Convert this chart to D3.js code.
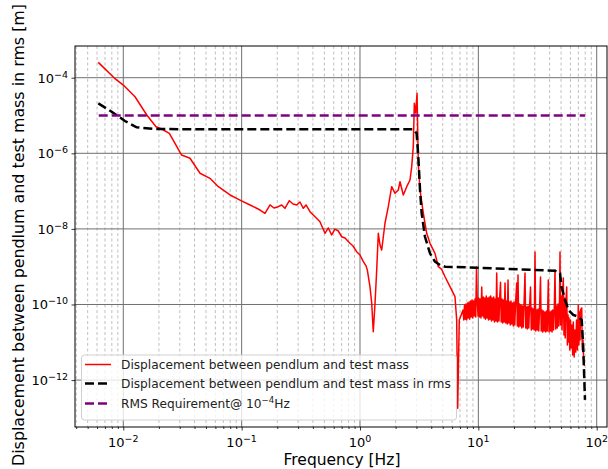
<!DOCTYPE html>
<html>
<head>
<meta charset="utf-8">
<script src="https://cdn.jsdelivr.net/npm/d3@7"></script>
<style>
  html, body { margin: 0; padding: 0; background: #fff; }
  svg { display: block; font-family: "DejaVu Sans", sans-serif; }
</style>
</head>
<body>
<svg id="chart" width="608" height="469"></svg>
<script>
// ---------- DATA ----------
const redFreq = [
  0.00615, 0.0084, 0.0100, 0.01256, 0.0158, 0.0189, 0.0211, 0.0245, 0.0311, 0.0366,
  0.0445, 0.054, 0.0636, 0.0798, 0.0969, 0.1178, 0.143, 0.1575, 0.1737, 0.1876,
  0.204, 0.218, 0.232, 0.253, 0.272, 0.292, 0.311, 0.332, 0.35, 0.378,
  0.417, 0.459, 0.506, 0.54, 0.576, 0.615, 0.656, 0.70, 0.747, 0.823,
  0.873, 0.937, 1.0, 1.067, 1.125, 1.153, 1.214, 1.256, 1.295, 1.34,
  1.384, 1.428, 1.476, 1.525, 1.626, 1.734, 1.853, 1.976, 2.107, 2.178,
  2.323, 2.483, 2.646, 2.735, 2.82, 2.877, 2.956, 3.034, 3.11, 3.215,
  3.43, 3.66, 3.905, 4.3, 4.59, 4.9, 5.23, 5.76, 6.35, 6.56,
  6.69, 6.9, 7.42,
  7.53, 7.64, 7.75, 7.87, 7.98, 8.10, 8.22, 8.34, 8.46, 8.59,
  8.71, 8.84, 8.97, 9.10, 9.24, 9.37, 9.51, 9.65, 9.79, 9.94,
  10.08, 10.23, 10.38, 10.53, 10.68, 10.84, 11.00, 11.16, 11.33, 11.49,
  11.66, 11.83, 12.01, 12.18, 12.36, 12.54, 12.73, 12.91, 13.10, 13.30,
  13.49, 13.69, 13.89, 14.10, 14.29, 14.51, 14.73, 14.94, 15.16, 15.39,
  15.61, 15.84, 16.08, 16.31, 16.55, 16.80, 17.05, 17.30, 17.55, 17.81,
  18.07, 18.34, 18.61, 18.88, 19.16, 19.44, 19.73, 20.02, 20.31, 20.61,
  21.09, 21.34, 21.63, 21.95, 22.27, 22.60, 22.93, 23.27, 23.61, 23.96,
  24.31, 24.79, 25.15, 25.52, 25.90, 26.28, 26.66, 27.05, 27.59, 28.00,
  28.40, 28.82, 29.24, 29.67, 30.11, 30.55, 31.00, 31.45, 31.92, 32.38,
  32.86, 33.51, 34.00, 34.50, 35.01, 35.52, 36.04, 36.58, 37.12, 37.66,
  38.21, 39.00, 39.57, 40.15, 40.74, 41.34, 41.95, 42.56, 43.19, 43.82,
  44.44, 45.09, 45.76, 46.43, 47.11, 47.80, 48.50, 48.98, 49.50, 50.20,
  50.93, 51.60, 52.23, 52.90, 53.46, 54.20, 55.05, 55.80, 56.50, 57.23,
  57.80, 58.35, 59.20, 60.08, 60.95, 61.86, 62.65, 63.45, 64.50, 65.58,
  66.50, 67.52, 68.70, 69.93, 70.70, 71.58, 72.30, 73.00, 74.72, 75.60,
  76.63, 77.60, 78.6
];
const redValue = [
  2.55e-4, 9.8e-5, 6.4e-5, 3.14e-5, 1.03e-5, 5.06e-6, 4.4e-6, 3.38e-6, 9.0e-7, 7.4e-7,
  2.96e-7, 2.18e-7, 1.31e-7, 7.9e-8, 5.8e-8, 4.3e-8, 3.16e-8, 2.59e-8, 4.3e-8, 3.57e-8,
  3.87e-8, 4.3e-8, 3.5e-8, 5.57e-8, 4.56e-8, 4.3e-8, 5.15e-8, 3.5e-8, 4.3e-8, 2.85e-8,
  2.1e-8, 1.55e-8, 7.66e-9, 1.06e-8, 6.9e-9, 9.9e-9, 8.8e-9, 6.2e-9, 5.74e-9, 4.16e-9,
  3.53e-9, 2.5e-9, 2.04e-9, 1.36e-9, 1.05e-9, 8.2e-10, 2.96e-10, 1.08e-10, 1.9e-11, 1.08e-10,
  8.2e-10, 7.66e-9, 3.75e-9, 2.77e-9, 1.41e-8, 3.87e-8, 1.31e-7, 8.75e-8, 1.07e-7, 1.77e-7,
  7.9e-8, 1.31e-7, 1.97e-7, 4.43e-7, 1.5e-6, 2.1e-5, 1.16e-5, 3.86e-5, 5.4e-7, 1.07e-7,
  2.59e-8, 7.66e-9, 4.16e-9, 2.26e-9, 1.0e-9, 8.5e-10, 5.43e-10, 2.96e-10, 1.61e-10, 3.9e-11,
  1.8e-13, 3.9e-11, 7.1e-11,
  3.9e-11, 9.7e-11, 4.1e-11, 1.03e-10, 3.9e-11, 1.10e-10, 4.4e-11, 1.16e-10, 4.1e-11, 1.24e-10,
  4.7e-11, 1.32e-10, 4.4e-11, 1.24e-10, 5.0e-11, 1.40e-10, 4.7e-11, 9.8e-10, 1.32e-10, 5.0e-11,
  1.49e-10, 4.7e-11, 1.40e-10, 4.4e-11, 2.9e-10, 5.0e-11, 1.58e-10, 4.4e-11, 1.49e-10, 4.1e-11,
  1.68e-10, 4.4e-11, 1.49e-10, 3.9e-11, 1.58e-10, 4.1e-11, 1.68e-10, 3.66e-11, 1.49e-10, 3.9e-11,
  1.58e-10, 3.44e-11, 1.40e-10, 3.66e-11, 6.8e-10, 3.44e-11, 1.49e-10, 3.66e-11, 1.58e-10, 3.9e-10,
  3.44e-11, 1.40e-10, 3.24e-11, 1.32e-10, 3.44e-11, 3.7e-10, 3.24e-11, 1.24e-10, 3.05e-11, 4.45e-10,
  3.24e-11, 1.16e-10, 2.87e-11, 1.24e-10, 3.05e-11, 1.10e-10, 2.70e-11, 1.16e-10, 2.87e-11, 1.03e-10,
  3.7e-10, 2.70e-11, 6.0e-10, 2.54e-11, 1.03e-10, 2.70e-11, 9.7e-11, 2.39e-11, 9.1e-11, 2.54e-11,
  9.7e-11, 6.8e-10, 2.39e-11, 8.6e-11, 2.25e-11, 9.1e-11, 2.39e-11, 8.1e-11, 2.9e-10, 2.12e-11,
  8.1e-11, 2.25e-11, 7.6e-11, 2.12e-11, 2.45e-9, 1.99e-11, 7.1e-11, 2.12e-11, 7.6e-11, 1.99e-11,
  6.7e-11, 5.3e-10, 1.99e-11, 7.1e-11, 1.87e-11, 6.7e-11, 1.99e-11, 6.3e-11, 1.87e-11, 6.7e-11,
  1.99e-11, 4.45e-10, 1.87e-11, 6.3e-11, 1.99e-11, 6.7e-11, 1.87e-11, 7.1e-11, 2.12e-11, 8.1e-11,
  8.2e-10, 2.25e-11, 9.1e-11, 2.39e-11, 1.03e-10, 2.70e-11, 1.32e-10, 2.45e-9, 2.87e-11, 1.68e-10,
  2.12e-11, 2.14e-10, 5.0e-10, 1.56e-11, 1.49e-10, 1.3e-11, 1.32e-10, 2.9e-10, 8.5e-12, 5.3e-11,
  1.02e-11, 4.4e-11, 6.25e-12, 3.9e-11, 7.1e-12, 2.87e-11, 4.6e-12, 3.44e-11, 4.1e-12, 2.12e-11,
  5.5e-12, 3.9e-11, 6.25e-12, 9.7e-11, 8.5e-12, 6.3e-11, 1.15e-11, 7.1e-11, 8.1e-11, 6.25e-12,
  1.15e-11, 3.4e-12, 2.36e-12
];

const rmsFreq = [
  0.00615, 0.00798, 0.01033, 0.01296, 0.01852, 0.0445, 0.311, 2.82, 3.01, 3.11,
  3.215, 3.32, 3.54, 3.905, 4.3, 4.75, 5.23, 9.68, 29.3, 44.4,
  49.0, 50.4, 54.0, 57.8, 63.4, 69.9, 74.7, 76.9, 79.6
];
const rmsValue = [
  2.1e-5, 1.26e-5, 7.15e-6, 4.88e-6, 4.4e-6, 4.3e-6, 4.3e-6, 4.3e-6, 3.38e-6, 8.1e-7,
  1.07e-7, 2.59e-8, 6.2e-9, 2.26e-9, 1.36e-9, 1.11e-9, 1.0e-9, 9.4e-10, 8.2e-10, 7.8e-10,
  6.7e-10, 2.96e-10, 1.32e-10, 7.1e-11, 5.3e-11, 4.75e-11, 3.9e-11, 7.65e-12, 3.0e-13
];

const reqFreq = [0.0062, 80];
const reqValue = [1e-5, 1e-5];

const xMajorTicks = [1e-2, 1e-1, 1e0, 1e1, 1e2];
const xTickExponents = ["−2", "−1", "0", "1", "2"];
const yMajorTicks = [1e-4, 1e-6, 1e-8, 1e-10, 1e-12];
const yTickExponents = ["−4", "−6", "−8", "−10", "−12"];

const legendLabels = [
  "Displacement between pendlum and test mass",
  "Displacement between pendlum and test mass in rms",
  "RMS Requirement@ 10"
];

// ---------- LAYOUT ----------
const L = 75, R = 607, T = 46, B = 427;
const svg = d3.select("#chart");

const x = d3.scaleLog().domain([Math.pow(10, -2.408), Math.pow(10, 2.087)]).range([L, R]);
const y = d3.scaleLog().domain([Math.pow(10, -13.241), Math.pow(10, -3.161)]).range([B, T]);

// minor x ticks
const xMinor = [];
for (let e = -3; e <= 2; e++) {
  for (let m = 2; m <= 9; m++) {
    const v = m * Math.pow(10, e);
    if (v >= x.domain()[0] && v <= x.domain()[1]) xMinor.push(v);
  }
}

// grid
const grid = svg.append("g");
grid.selectAll(".minor").data(xMinor).enter().append("line")
  .attr("x1", d => x(d)).attr("x2", d => x(d))
  .attr("y1", T).attr("y2", B)
  .attr("stroke", "#b0b0b0").attr("stroke-width", 0.8)
  .attr("stroke-dasharray", "3,2.5");
grid.selectAll(".majx").data(xMajorTicks).enter().append("line")
  .attr("x1", d => x(d)).attr("x2", d => x(d))
  .attr("y1", T).attr("y2", B)
  .attr("stroke", "#707070").attr("stroke-width", 1);
grid.selectAll(".majy").data(yMajorTicks).enter().append("line")
  .attr("x1", L).attr("x2", R)
  .attr("y1", d => y(d)).attr("y2", d => y(d))
  .attr("stroke", "#707070").attr("stroke-width", 1);

// clip
svg.append("clipPath").attr("id", "clip").append("rect")
  .attr("x", L).attr("y", T).attr("width", R - L).attr("height", B - T);

const line = d3.line().x(d => x(d[0])).y(d => y(d[1]));
const plot = svg.append("g").attr("clip-path", "url(#clip)");

plot.append("path")
  .datum(redFreq.map((f, i) => [f, redValue[i]]))
  .attr("d", line).attr("fill", "none")
  .attr("stroke", "#ff0000").attr("stroke-width", 1.5)
  .attr("stroke-linejoin", "round");

plot.append("path")
  .datum(rmsFreq.map((f, i) => [f, rmsValue[i]]))
  .attr("d", line).attr("fill", "none")
  .attr("stroke", "#000").attr("stroke-width", 2.5)
  .attr("stroke-dasharray", "9,4");

plot.append("path")
  .datum(reqFreq.map((f, i) => [f, reqValue[i]]))
  .attr("d", line).attr("fill", "none")
  .attr("stroke", "#800080").attr("stroke-width", 2.5)
  .attr("stroke-dasharray", "9,4");

// axes
const xAxis = d3.axisBottom(x).tickValues(xMajorTicks).tickSize(3.5).tickFormat("");
const xAxisMinor = d3.axisBottom(x).tickValues(xMinor).tickSize(2).tickFormat("");
const yAxis = d3.axisLeft(y).tickValues(yMajorTicks).tickSize(3.5).tickFormat("");

const gx = svg.append("g").attr("transform", `translate(0,${B})`).call(xAxis);
const gxm = svg.append("g").attr("transform", `translate(0,${B})`).call(xAxisMinor);
const gy = svg.append("g").attr("transform", `translate(${L},0)`).call(yAxis);
[gx, gxm, gy].forEach(g => {
  g.select(".domain").remove();
  g.selectAll("line").attr("stroke", "#000").attr("stroke-width", 0.8);
});

// frame
svg.append("rect").attr("x", L).attr("y", T).attr("width", R - L).attr("height", B - T)
  .attr("fill", "none").attr("stroke", "#000").attr("stroke-width", 1);

// tick labels
const xl = svg.append("g").selectAll("text").data(xMajorTicks).enter().append("text")
  .attr("x", d => x(d)).attr("y", 447)
  .attr("text-anchor", "middle").attr("font-size", 13).attr("fill", "#000");
xl.append("tspan").text("10");
xl.append("tspan").attr("dy", -5).attr("font-size", 9.5).text((d, i) => xTickExponents[i]);

const yl = svg.append("g").selectAll("text").data(yMajorTicks).enter().append("text")
  .attr("x", 68).attr("y", d => y(d) + 5)
  .attr("text-anchor", "end").attr("font-size", 13).attr("fill", "#000");
yl.append("tspan").text("10");
yl.append("tspan").attr("dy", -5).attr("font-size", 9.5).text((d, i) => yTickExponents[i]);

// axis labels
svg.append("text").attr("x", 342).attr("y", 465)
  .attr("text-anchor", "middle").attr("font-size", 15.5).text("Frequency [Hz]");
svg.append("text").attr("transform", `translate(24,235) rotate(-90)`)
  .attr("text-anchor", "middle").attr("font-size", 15.5)
  .attr("textLength", 462).attr("lengthAdjust", "spacingAndGlyphs")
  .text("Displacement between pendlum and test mass in rms [m]");

// legend
const lg = svg.append("g");
lg.append("rect").attr("x", 81.5).attr("y", 355).attr("width", 375).attr("height", 65)
  .attr("rx", 3).attr("fill", "#fff").attr("fill-opacity", 0.8)
  .attr("stroke", "#d0d0d0").attr("stroke-width", 1);
const legItems = [
  { color: "#ff0000", w: 1.5, dash: null },
  { color: "#000", w: 2.5, dash: "9,4" },
  { color: "#800080", w: 2.5, dash: "9,4" }
];
const legY = [364.5, 383.5, 403.5];
legItems.forEach((it, i) => {
  const yy = legY[i];
  lg.append("line").attr("x1", 85).attr("x2", 111).attr("y1", yy).attr("y2", yy)
    .attr("stroke", it.color).attr("stroke-width", it.w)
    .attr("stroke-dasharray", it.dash);
  const t = lg.append("text").attr("x", 121).attr("y", yy + 4.4)
    .attr("font-size", 12.2).attr("fill", "#222");
  t.append("tspan").text(legendLabels[i]);
  if (i === 2) {
    t.append("tspan").attr("dy", -4.5).attr("font-size", 8.6).text("−4");
    t.append("tspan").attr("dy", 4.5).text("Hz");
  }
});
</script>
</body>
</html>
